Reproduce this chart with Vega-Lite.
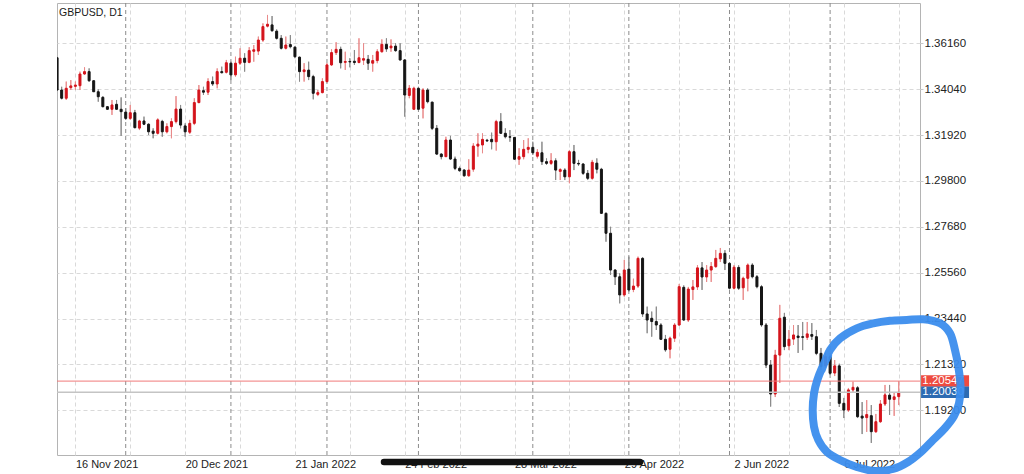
{
"$schema": "https://vega.github.io/schema/vega-lite/v6.json",
"width": 863, "height": 452,
"autosize": {"type": "none"},
"padding": {"left": 57, "top": 3, "right": 104, "bottom": 19},
"background": "white",
"config": {"view": {"stroke": "#b4b4b4", "strokeWidth": 1}, "font": "Liberation Sans", "axis": {"labelFont": "Liberation Sans"}},
"title": {"text": "GBPUSD, D1", "anchor": "start", "frame": "group", "offset": -16, "fontSize": 10.5, "fontWeight": "normal", "color": "#1a1a1a", "font": "Liberation Sans", "dx": 2},
"datasets": {
"candles": [
{"i":0,"o":1.3549,"h":1.3553,"l":1.3396,"c":1.3400},
{"i":1,"o":1.3400,"h":1.3415,"l":1.3357,"c":1.3362},
{"i":2,"o":1.3362,"h":1.3439,"l":1.3354,"c":1.3408},
{"i":3,"o":1.3411,"h":1.3446,"l":1.3400,"c":1.3419},
{"i":4,"o":1.3417,"h":1.3439,"l":1.3400,"c":1.3423},
{"i":5,"o":1.3420,"h":1.3485,"l":1.3400,"c":1.3474},
{"i":6,"o":1.3474,"h":1.3505,"l":1.3470,"c":1.3485},
{"i":7,"o":1.3485,"h":1.3500,"l":1.3438,"c":1.3443},
{"i":8,"o":1.3443,"h":1.3446,"l":1.3391,"c":1.3392},
{"i":9,"o":1.3392,"h":1.3403,"l":1.3346,"c":1.3369},
{"i":10,"o":1.3366,"h":1.3372,"l":1.3320,"c":1.3323},
{"i":11,"o":1.3323,"h":1.3326,"l":1.3308,"c":1.3311},
{"i":12,"o":1.3311,"h":1.3354,"l":1.3285,"c":1.3331},
{"i":13,"o":1.3334,"h":1.3354,"l":1.3308,"c":1.3311},
{"i":14,"o":1.3311,"h":1.3366,"l":1.3188,"c":1.3300},
{"i":15,"o":1.3298,"h":1.3316,"l":1.3262,"c":1.3269},
{"i":16,"o":1.3269,"h":1.3331,"l":1.3262,"c":1.3295},
{"i":17,"o":1.3295,"h":1.3308,"l":1.3223,"c":1.3226},
{"i":18,"o":1.3224,"h":1.3262,"l":1.3215,"c":1.3257},
{"i":19,"o":1.3257,"h":1.3277,"l":1.3238,"c":1.3242},
{"i":20,"o":1.3242,"h":1.3246,"l":1.3192,"c":1.3207},
{"i":21,"o":1.3210,"h":1.3223,"l":1.3177,"c":1.3200},
{"i":22,"o":1.3200,"h":1.3269,"l":1.3195,"c":1.3262},
{"i":23,"o":1.3255,"h":1.3262,"l":1.3184,"c":1.3207},
{"i":24,"o":1.3207,"h":1.3246,"l":1.3200,"c":1.3231},
{"i":25,"o":1.3231,"h":1.3269,"l":1.3177,"c":1.3254},
{"i":26,"o":1.3254,"h":1.3372,"l":1.3246,"c":1.3312},
{"i":27,"o":1.3312,"h":1.3331,"l":1.3223,"c":1.3238},
{"i":28,"o":1.3234,"h":1.3246,"l":1.3184,"c":1.3207},
{"i":29,"o":1.3205,"h":1.3262,"l":1.3197,"c":1.3246},
{"i":30,"o":1.3246,"h":1.3362,"l":1.3238,"c":1.3342},
{"i":31,"o":1.3342,"h":1.3423,"l":1.3339,"c":1.3400},
{"i":32,"o":1.3397,"h":1.3415,"l":1.3377,"c":1.3390},
{"i":33,"o":1.3390,"h":1.3454,"l":1.3377,"c":1.3439},
{"i":34,"o":1.3439,"h":1.3462,"l":1.3419,"c":1.3428},
{"i":35,"o":1.3428,"h":1.3500,"l":1.3408,"c":1.3485},
{"i":36,"o":1.3485,"h":1.3508,"l":1.3477,"c":1.3480},
{"i":37,"o":1.3482,"h":1.3539,"l":1.3477,"c":1.3526},
{"i":38,"o":1.3524,"h":1.3531,"l":1.3446,"c":1.3470},
{"i":39,"o":1.3470,"h":1.3554,"l":1.3462,"c":1.3524},
{"i":40,"o":1.3524,"h":1.3593,"l":1.3516,"c":1.3547},
{"i":41,"o":1.3547,"h":1.3570,"l":1.3485,"c":1.3528},
{"i":42,"o":1.3528,"h":1.3598,"l":1.3524,"c":1.3582},
{"i":43,"o":1.3579,"h":1.3608,"l":1.3531,"c":1.3586},
{"i":44,"o":1.3580,"h":1.3647,"l":1.3562,"c":1.3631},
{"i":45,"o":1.3631,"h":1.3708,"l":1.3623,"c":1.3693},
{"i":46,"o":1.3695,"h":1.3747,"l":1.3690,"c":1.3704},
{"i":47,"o":1.3701,"h":1.3742,"l":1.3670,"c":1.3674},
{"i":48,"o":1.3672,"h":1.3680,"l":1.3634,"c":1.3639},
{"i":49,"o":1.3639,"h":1.3654,"l":1.3588,"c":1.3593},
{"i":50,"o":1.3593,"h":1.3647,"l":1.3588,"c":1.3608},
{"i":51,"o":1.3610,"h":1.3654,"l":1.3593,"c":1.3600},
{"i":52,"o":1.3598,"h":1.3602,"l":1.3547,"c":1.3554},
{"i":53,"o":1.3552,"h":1.3554,"l":1.3439,"c":1.3485},
{"i":54,"o":1.3485,"h":1.3524,"l":1.3439,"c":1.3493},
{"i":55,"o":1.3492,"h":1.3531,"l":1.3446,"c":1.3462},
{"i":56,"o":1.3462,"h":1.3470,"l":1.3357,"c":1.3385},
{"i":57,"o":1.3380,"h":1.3400,"l":1.3372,"c":1.3388},
{"i":58,"o":1.3388,"h":1.3454,"l":1.3385,"c":1.3439},
{"i":59,"o":1.3439,"h":1.3524,"l":1.3434,"c":1.3516},
{"i":60,"o":1.3516,"h":1.3588,"l":1.3511,"c":1.3573},
{"i":61,"o":1.3573,"h":1.3621,"l":1.3562,"c":1.3588},
{"i":62,"o":1.3588,"h":1.3600,"l":1.3500,"c":1.3526},
{"i":63,"o":1.3528,"h":1.3577,"l":1.3493,"c":1.3532},
{"i":64,"o":1.3532,"h":1.3547,"l":1.3505,"c":1.3530},
{"i":65,"o":1.3533,"h":1.3585,"l":1.3516,"c":1.3527},
{"i":66,"o":1.3527,"h":1.3639,"l":1.3524,"c":1.3549},
{"i":67,"o":1.3538,"h":1.3616,"l":1.3516,"c":1.3545},
{"i":68,"o":1.3542,"h":1.3562,"l":1.3493,"c":1.3524},
{"i":69,"o":1.3524,"h":1.3562,"l":1.3485,"c":1.3536},
{"i":70,"o":1.3536,"h":1.3588,"l":1.3524,"c":1.3577},
{"i":71,"o":1.3577,"h":1.3634,"l":1.3573,"c":1.3611},
{"i":72,"o":1.3611,"h":1.3639,"l":1.3577,"c":1.3590},
{"i":73,"o":1.3595,"h":1.3634,"l":1.3577,"c":1.3603},
{"i":74,"o":1.3603,"h":1.3616,"l":1.3577,"c":1.3582},
{"i":75,"o":1.3582,"h":1.3616,"l":1.3536,"c":1.3539},
{"i":76,"o":1.3539,"h":1.3542,"l":1.3277,"c":1.3377},
{"i":77,"o":1.3375,"h":1.3423,"l":1.3362,"c":1.3408},
{"i":78,"o":1.3311,"h":1.3415,"l":1.3308,"c":1.3408},
{"i":79,"o":1.3408,"h":1.3415,"l":1.3308,"c":1.3311},
{"i":80,"o":1.3316,"h":1.3408,"l":1.3269,"c":1.3400},
{"i":81,"o":1.3400,"h":1.3408,"l":1.3339,"c":1.3346},
{"i":82,"o":1.3344,"h":1.3346,"l":1.3215,"c":1.3223},
{"i":83,"o":1.3223,"h":1.3238,"l":1.3100,"c":1.3104},
{"i":84,"o":1.3104,"h":1.3108,"l":1.3080,"c":1.3092},
{"i":85,"o":1.3092,"h":1.3184,"l":1.3090,"c":1.3169},
{"i":86,"o":1.3169,"h":1.3188,"l":1.3077,"c":1.3081},
{"i":87,"o":1.3081,"h":1.3092,"l":1.3030,"c":1.3038},
{"i":88,"o":1.3038,"h":1.3046,"l":1.3023,"c":1.3027},
{"i":89,"o":1.3030,"h":1.3035,"l":1.2999,"c":1.3004},
{"i":90,"o":1.3004,"h":1.3080,"l":1.2999,"c":1.3030},
{"i":91,"o":1.3034,"h":1.3154,"l":1.3023,"c":1.3141},
{"i":92,"o":1.3141,"h":1.3200,"l":1.3092,"c":1.3150},
{"i":93,"o":1.3146,"h":1.3200,"l":1.3108,"c":1.3172},
{"i":94,"o":1.3168,"h":1.3174,"l":1.3160,"c":1.3165},
{"i":95,"o":1.3172,"h":1.3203,"l":1.3126,"c":1.3161},
{"i":96,"o":1.3161,"h":1.3262,"l":1.3120,"c":1.3254},
{"i":97,"o":1.3254,"h":1.3293,"l":1.3197,"c":1.3200},
{"i":98,"o":1.3200,"h":1.3223,"l":1.3177,"c":1.3184},
{"i":99,"o":1.3184,"h":1.3215,"l":1.3161,"c":1.3182},
{"i":100,"o":1.3181,"h":1.3183,"l":1.3077,"c":1.3080},
{"i":101,"o":1.3080,"h":1.3131,"l":1.3054,"c":1.3092},
{"i":102,"o":1.3092,"h":1.3169,"l":1.3080,"c":1.3126},
{"i":103,"o":1.3126,"h":1.3177,"l":1.3108,"c":1.3135},
{"i":104,"o":1.3135,"h":1.3161,"l":1.3100,"c":1.3110},
{"i":105,"o":1.3094,"h":1.3126,"l":1.3084,"c":1.3112},
{"i":106,"o":1.3110,"h":1.3161,"l":1.3054,"c":1.3069},
{"i":107,"o":1.3069,"h":1.3084,"l":1.3054,"c":1.3061},
{"i":108,"o":1.3061,"h":1.3108,"l":1.3054,"c":1.3073},
{"i":109,"o":1.3073,"h":1.3084,"l":1.2984,"c":1.3030},
{"i":110,"o":1.3024,"h":1.3038,"l":1.2984,"c":1.3032},
{"i":111,"o":1.3030,"h":1.3038,"l":1.2984,"c":1.2999},
{"i":112,"o":1.2999,"h":1.3123,"l":1.2969,"c":1.3115},
{"i":113,"o":1.3115,"h":1.3146,"l":1.3030,"c":1.3061},
{"i":114,"o":1.3061,"h":1.3077,"l":1.3049,"c":1.3058},
{"i":115,"o":1.3058,"h":1.3062,"l":1.3008,"c":1.3015},
{"i":116,"o":1.3015,"h":1.3030,"l":1.2984,"c":1.2992},
{"i":117,"o":1.2992,"h":1.3077,"l":1.2986,"c":1.3066},
{"i":118,"o":1.3062,"h":1.3084,"l":1.3015,"c":1.3034},
{"i":119,"o":1.3034,"h":1.3040,"l":1.2827,"c":1.2830},
{"i":120,"o":1.2830,"h":1.2834,"l":1.2699,"c":1.2738},
{"i":121,"o":1.2738,"h":1.2768,"l":1.2545,"c":1.2568},
{"i":122,"o":1.2568,"h":1.2572,"l":1.2499,"c":1.2537},
{"i":123,"o":1.2537,"h":1.2553,"l":1.2414,"c":1.2453},
{"i":124,"o":1.2453,"h":1.2615,"l":1.2445,"c":1.2568},
{"i":125,"o":1.2572,"h":1.2630,"l":1.2468,"c":1.2476},
{"i":126,"o":1.2478,"h":1.2528,"l":1.2466,"c":1.2494},
{"i":127,"o":1.2494,"h":1.2630,"l":1.2486,"c":1.2622},
{"i":128,"o":1.2622,"h":1.2628,"l":1.2352,"c":1.2365},
{"i":129,"o":1.2365,"h":1.2399,"l":1.2276,"c":1.2337},
{"i":130,"o":1.2345,"h":1.2376,"l":1.2260,"c":1.2330},
{"i":131,"o":1.2330,"h":1.2399,"l":1.2291,"c":1.2314},
{"i":132,"o":1.2314,"h":1.2322,"l":1.2245,"c":1.2248},
{"i":133,"o":1.2248,"h":1.2268,"l":1.2191,"c":1.2199},
{"i":134,"o":1.2202,"h":1.2260,"l":1.2160,"c":1.2253},
{"i":135,"o":1.2253,"h":1.2323,"l":1.2236,"c":1.2314},
{"i":136,"o":1.2314,"h":1.2504,"l":1.2310,"c":1.2491},
{"i":137,"o":1.2488,"h":1.2497,"l":1.2333,"c":1.2337},
{"i":138,"o":1.2337,"h":1.2490,"l":1.2328,"c":1.2480},
{"i":139,"o":1.2478,"h":1.2522,"l":1.2430,"c":1.2490},
{"i":140,"o":1.2490,"h":1.2591,"l":1.2476,"c":1.2578},
{"i":141,"o":1.2578,"h":1.2605,"l":1.2476,"c":1.2536},
{"i":142,"o":1.2536,"h":1.2591,"l":1.2513,"c":1.2568},
{"i":143,"o":1.2568,"h":1.2605,"l":1.2513,"c":1.2584},
{"i":144,"o":1.2584,"h":1.2661,"l":1.2578,"c":1.2622},
{"i":145,"o":1.2620,"h":1.2670,"l":1.2605,"c":1.2645},
{"i":146,"o":1.2645,"h":1.2660,"l":1.2568,"c":1.2599},
{"i":147,"o":1.2599,"h":1.2605,"l":1.2479,"c":1.2484},
{"i":148,"o":1.2484,"h":1.2591,"l":1.2479,"c":1.2581},
{"i":149,"o":1.2580,"h":1.2590,"l":1.2476,"c":1.2484},
{"i":150,"o":1.2486,"h":1.2537,"l":1.2430,"c":1.2530},
{"i":151,"o":1.2530,"h":1.2598,"l":1.2470,"c":1.2591},
{"i":152,"o":1.2591,"h":1.2599,"l":1.2530,"c":1.2537},
{"i":153,"o":1.2537,"h":1.2545,"l":1.2484,"c":1.2491},
{"i":154,"o":1.2491,"h":1.2499,"l":1.2306,"c":1.2314},
{"i":155,"o":1.2314,"h":1.2323,"l":1.2115,"c":1.2129},
{"i":156,"o":1.2129,"h":1.2152,"l":1.1937,"c":1.1995},
{"i":157,"o":1.1995,"h":1.2199,"l":1.1981,"c":1.2175},
{"i":158,"o":1.2175,"h":1.2407,"l":1.2046,"c":1.2345},
{"i":159,"o":1.2350,"h":1.2370,"l":1.2198,"c":1.2214},
{"i":160,"o":1.2218,"h":1.2291,"l":1.2198,"c":1.2248},
{"i":161,"o":1.2249,"h":1.2314,"l":1.2222,"c":1.2268},
{"i":162,"o":1.2263,"h":1.2314,"l":1.2185,"c":1.2256},
{"i":163,"o":1.2260,"h":1.2328,"l":1.2198,"c":1.2257},
{"i":164,"o":1.2257,"h":1.2328,"l":1.2245,"c":1.2273},
{"i":165,"o":1.2270,"h":1.2323,"l":1.2245,"c":1.2262},
{"i":166,"o":1.2260,"h":1.2291,"l":1.2175,"c":1.2183},
{"i":167,"o":1.2183,"h":1.2208,"l":1.2106,"c":1.2121},
{"i":168,"o":1.2125,"h":1.2189,"l":1.2115,"c":1.2168},
{"i":169,"o":1.2167,"h":1.2175,"l":1.2083,"c":1.2091},
{"i":170,"o":1.2092,"h":1.2152,"l":1.2078,"c":1.2125},
{"i":171,"o":1.2125,"h":1.2135,"l":1.1935,"c":1.1952},
{"i":172,"o":1.1952,"h":1.1977,"l":1.1884,"c":1.1921},
{"i":173,"o":1.1921,"h":1.2023,"l":1.1912,"c":1.2014},
{"i":174,"o":1.2014,"h":1.2052,"l":1.2004,"c":1.2026},
{"i":175,"o":1.2024,"h":1.2032,"l":1.1884,"c":1.1890},
{"i":176,"o":1.1893,"h":1.1958,"l":1.1810,"c":1.1884},
{"i":177,"o":1.1886,"h":1.1967,"l":1.1820,"c":1.1900},
{"i":178,"o":1.1895,"h":1.1944,"l":1.1769,"c":1.1821},
{"i":179,"o":1.1821,"h":1.1903,"l":1.1815,"c":1.1867},
{"i":180,"o":1.1867,"h":1.1967,"l":1.1861,"c":1.1949},
{"i":181,"o":1.1949,"h":1.2037,"l":1.1940,"c":1.1991},
{"i":182,"o":1.1990,"h":1.2037,"l":1.1898,"c":1.1971},
{"i":183,"o":1.1970,"h":1.2000,"l":1.1894,"c":1.1982},
{"i":184,"o":1.1983,"h":1.2054,"l":1.1944,"c":1.2003}
],
"seps": [{"i":15},{"i":38},{"i":59},{"i":79},{"i":104},{"i":125},{"i":147},{"i":169}],
"prices": [{"price":1.20547,"label":"1.20547","kind":"ask"},{"price":1.2003,"label":"1.20030","kind":"bid"}],
"scribble": [
{"k":1,"i":167.16,"p":1.21061},{"k":2,"i":168.98,"p":1.21985},{"k":3,"i":171.16,"p":1.22526},{"k":4,"i":174.81,"p":1.22988},
{"k":5,"i":178.44,"p":1.23219},{"k":6,"i":182.10,"p":1.23339},{"k":7,"i":185.75,"p":1.23372},{"k":8,"i":189.38,"p":1.23404},
{"k":9,"i":193.03,"p":1.23219},{"k":10,"i":195.21,"p":1.22757},{"k":11,"i":196.30,"p":1.21985},{"k":12,"i":197.03,"p":1.21213},
{"k":13,"i":197.51,"p":1.20289},{"k":14,"i":197.18,"p":1.19522},{"k":15,"i":196.09,"p":1.18935},{"k":16,"i":194.12,"p":1.18380},
{"k":17,"i":191.50,"p":1.17826},{"k":18,"i":188.87,"p":1.17271},{"k":19,"i":186.03,"p":1.16809},{"k":20,"i":182.75,"p":1.16485},
{"k":21,"i":178.82,"p":1.16393},{"k":22,"i":174.81,"p":1.16578},{"k":23,"i":171.16,"p":1.16901},{"k":24,"i":168.26,"p":1.17285},
{"k":25,"i":166.42,"p":1.17826},{"k":26,"i":165.48,"p":1.18440},{"k":27,"i":165.19,"p":1.19212},{"k":28,"i":165.48,"p":1.19984},
{"k":29,"i":166.20,"p":1.20599},{"k":30,"i":167.23,"p":1.21153},{"k":31,"i":168.54,"p":1.21708}
]
},
"layer": [
{"data": {"name": "candles"},
 "mark": {"type": "rule", "strokeWidth": 1, "clip": true},
 "encoding": {
  "x": {"field": "i", "type": "quantitative", "title": null,
        "scale": {"domain": [-0.02, 188.65], "nice": false, "zero": false, "padding": 0},
        "axis": {"title": null, "values": [4,16,28,40,52,64,76,88,100,112,124,136,148,160,172,184],
                 "labelExpr": "datum.value==4?'16 Nov 2021':datum.value==28?'20 Dec 2021':datum.value==52?'21 Jan 2022':datum.value==76?'24 Feb 2022':datum.value==100?'28 Mar 2022':datum.value==124?'29 Apr 2022':datum.value==148?'2 Jun 2022':datum.value==172?'6 Jul 2022':''",
                 "grid": true, "gridDash": [4, 3], "gridColor": "#d9d9d9", "domain": false, "ticks": false,
                 "labelAlign": "left", "labelBaseline": "top", "labelPadding": 3, "labelFontSize": 11, "labelColor": "#222222",
                 "labelOverlap": false, "labelFlush": false, "labelBound": false}},
  "y": {"field": "l", "type": "quantitative", "title": null,
        "scale": {"domain": [1.17132, 1.38022], "nice": false, "zero": false, "padding": 0},
        "axis": {"title": null, "orient": "right", "values": [1.192,1.2132,1.2344,1.2556,1.2768,1.298,1.3192,1.3404,1.3616],
                 "format": ".5f", "grid": true, "gridDash": [4, 3], "gridColor": "#d9d9d9", "domain": false,
                 "ticks": true, "tickSize": 3, "tickColor": "#c8c8c8", "labelPadding": 1, "labelFontSize": 11.5,
                 "labelColor": "#222222", "labelBaseline": "middle"}},
  "y2": {"field": "h"},
  "color": {"condition": {"test": "datum.c > datum.o", "value": "#e98a8a"}, "value": "#8a8a8a"}}},
{"data": {"name": "seps"},
 "mark": {"type": "rule", "strokeDash": [4, 3], "color": "#8c8c8c", "strokeWidth": 1},
 "encoding": {"x": {"field": "i", "type": "quantitative", "title": null}}},
{"data": {"name": "candles"},
 "mark": {"type": "rule", "strokeWidth": 1, "clip": true},
 "encoding": {
  "x": {"field": "i", "type": "quantitative", "title": null},
  "y": {"field": "l", "type": "quantitative", "title": null},
  "y2": {"field": "h"},
  "color": {"condition": {"test": "datum.c > datum.o", "value": "#e98a8a"}, "value": "#8a8a8a"}}},
{"data": {"name": "candles"},
 "mark": {"type": "bar", "size": 2, "strokeWidth": 1, "clip": true},
 "encoding": {
  "x": {"field": "i", "type": "quantitative", "title": null},
  "y": {"field": "o", "type": "quantitative", "title": null},
  "y2": {"field": "c"},
  "fill": {"condition": {"test": "datum.c > datum.o", "value": "#d4141c"}, "value": "#151515"},
  "stroke": {"condition": {"test": "datum.c > datum.o", "value": "#d4141c"}, "value": "#151515"}}},
{"data": {"name": "prices"},
 "mark": {"type": "rule"},
 "encoding": {
  "y": {"field": "price", "type": "quantitative", "title": null},
  "color": {"condition": {"test": "datum.kind=='ask'", "value": "#f07a7a"}, "value": "#c4c4c4"},
  "strokeWidth": {"condition": {"test": "datum.kind=='ask'", "value": 1}, "value": 1.5}}},
{"data": {"name": "prices"},
 "mark": {"type": "point", "shape": "M-1,-0.24H1V0.24H-1Z", "size": 2304, "filled": true, "opacity": 1, "strokeWidth": 0},
 "encoding": {
  "x": {"datum": 194.13, "type": "quantitative", "title": null},
  "y": {"field": "price", "type": "quantitative", "title": null},
  "fill": {"condition": {"test": "datum.kind=='ask'", "value": "#ee4b40"}, "value": "#2d6bb2"}}},
{"data": {"name": "prices"},
 "mark": {"type": "text", "align": "left", "baseline": "middle", "fontSize": 11.5, "color": "#ffffff", "font": "Liberation Sans"},
 "encoding": {
  "x": {"datum": 189.15, "type": "quantitative", "title": null},
  "y": {"field": "price", "type": "quantitative", "title": null},
  "text": {"field": "label"}}},
{"data": {"values": [{}]},
 "mark": {"type": "rule", "strokeWidth": 6.5, "strokeCap": "round", "color": "#111111"},
 "encoding": {
  "x": {"datum": 71.47, "type": "quantitative", "title": null},
  "x2": {"datum": 127.44},
  "y": {"datum": 1.1681, "type": "quantitative", "title": null}}},
{"data": {"name": "scribble"},
 "mark": {"type": "line", "strokeWidth": 8, "color": "#3b8ded", "strokeCap": "round", "strokeJoin": "round", "interpolate": "cardinal", "opacity": 0.95},
 "encoding": {
  "x": {"field": "i", "type": "quantitative", "title": null},
  "y": {"field": "p", "type": "quantitative", "title": null},
  "order": {"field": "k"}}}
]
}
